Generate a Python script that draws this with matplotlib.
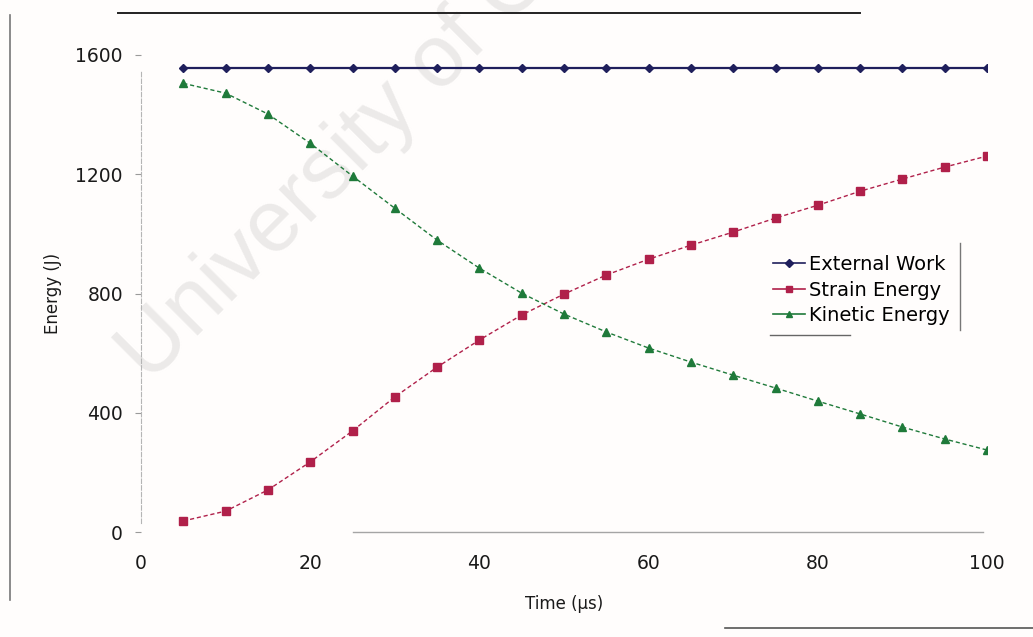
import matplotlib
matplotlib.use("Agg")
import matplotlib.pyplot as plt
from matplotlib.lines import Line2D

plt.rcParams['font.family'] = ['DejaVu Sans']

time_us = [5, 10, 15, 20, 25, 30, 35, 40, 45, 50, 55, 60, 65, 70, 75, 80, 85, 90, 95, 100]
external_work = [1555] * 20
strain_energy = [37, 70, 141, 235, 339, 453, 553, 644, 728, 798, 862, 915, 962, 1006,
                 1053, 1096, 1143, 1184, 1224, 1261]
kinetic_energy = [1505, 1472, 1402, 1304, 1194, 1086, 979, 885, 801, 731, 671, 617, 570,
                  526, 483, 439, 396, 352, 312, 275]
x_ticks = [0, 20, 40, 60, 80, 100]
y_ticks = [0, 400, 800, 1200, 1600]

W, H = 1033, 637
fig = plt.figure(figsize=(W / 100, H / 100), dpi=100, facecolor='#fffdfc')
ax = fig.add_axes([141 / W, 1 - 532 / H, 846 / W, 477 / H])
ax.set_facecolor('none')

# faint watermark behind everything
fig.text(149 / W, 1 - 384 / H, 'University of Cape Town', fontsize=63, color='#eceae9',
         rotation=45, rotation_mode='anchor', ha='left', va='baseline', zorder=-10,
         family='Liberation Sans')

ax.plot(time_us, external_work, color='#1f1f5c', lw=1.6, marker='D', ms=4.5,
        label='External Work', zorder=3)
ax.plot(time_us, strain_energy, color='#b0204a', lw=1.0, ls=(0, (3, 2)), marker='s', ms=5.5,
        label='Strain Energy', zorder=3)
ax.plot(time_us, kinetic_energy, color='#1f7a3a', lw=1.0, ls=(0, (3, 2)), marker='^', ms=6,
        label='Kinetic Energy', zorder=3)

ax.set_xlim(0, 100)
ax.set_ylim(0, 1600)
ax.set_xticks(x_ticks)
ax.set_yticks(y_ticks)
ax.tick_params(axis='both', labelsize=13.5, colors='#9a9a9a', labelcolor='#1a1a1a',
               width=0.8)
ax.tick_params(axis='x', pad=16, length=0)
ax.tick_params(axis='y', pad=9, length=4)

for side in ['top', 'right']:
    ax.spines[side].set_visible(False)
ax.spines['left'].set_color('#b5b5b5')
ax.spines['left'].set_linestyle((0, (4, 2)))
ax.spines['left'].set_linewidth(0.8)
ax.spines['left'].set_bounds(30, 1550)
ax.spines['bottom'].set_color('#a5a5a5')
ax.spines['bottom'].set_linewidth(1.0)
ax.spines['bottom'].set_bounds(25, 99.5)

ax.set_xlabel('Time (µs)', fontsize=12, labelpad=16, color='#1a1a1a')
ax.set_ylabel('Energy (J)', fontsize=12, labelpad=10, color='#1a1a1a')

leg = ax.legend(loc='center left', bbox_to_anchor=((773 - 141) / 846, (532 - 290) / 477),
                frameon=False, fontsize=14, handlelength=1.65, handletextpad=0.2,
                labelspacing=0.33, borderaxespad=0, borderpad=0)
for h in leg.legend_handles:
    h.set_markersize(4)
    h.set_linewidth(1.2)
    h.set_linestyle('-')

# page frame lines and partial legend box
def pix_line(x0, y0, x1, y1, color, lw):
    fig.add_artist(Line2D([x0 / W, x1 / W], [1 - y0 / H, 1 - y1 / H], color=color, lw=lw))

pix_line(118, 13, 860, 13, '#222222', 1.4)
pix_line(10, 15, 10, 600, '#777777', 1.2)
pix_line(960, 243, 960, 330, '#777777', 1.0)
pix_line(770, 335, 850, 335, '#666666', 1.0)
pix_line(725, 628, W, 628, '#555555', 1.2)

fig.savefig('out.png', dpi=100, facecolor=fig.get_facecolor())
